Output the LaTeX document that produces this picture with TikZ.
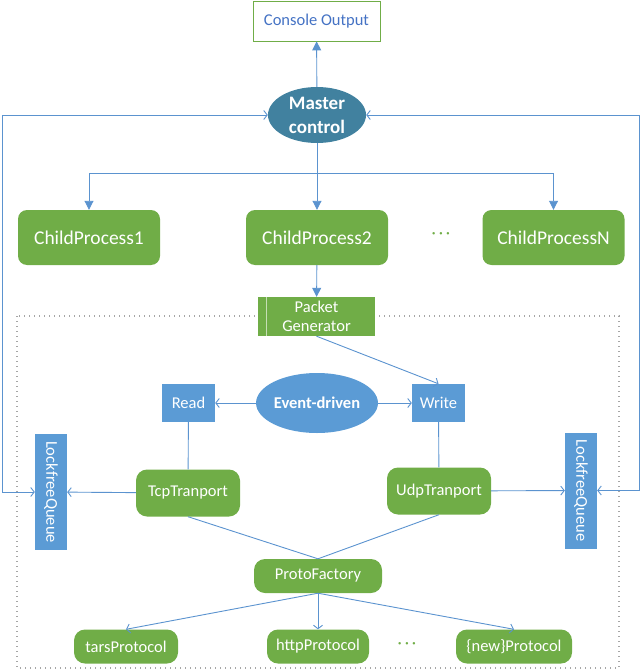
\documentclass[tikz,border=0pt]{standalone}
\usepackage{fontspec}
\setmainfont{Carlito}
\usetikzlibrary{arrows.meta, shapes.geometric, calc}

\definecolor{boxgreen}{HTML}{70AD47}
\definecolor{boxblue}{HTML}{5B9BD5}
\definecolor{masterteal}{HTML}{41819F}
\definecolor{linkblue}{HTML}{5B93CF}
\definecolor{textblue}{HTML}{4472C4}

\tikzset{
  greenbox/.style={rectangle, rounded corners=9pt, fill=boxgreen, text=white, align=center, inner sep=0pt, font=\fontsize{16.5}{19}\selectfont},
  childbox/.style={greenbox, minimum width=142pt, minimum height=55pt, font=\fontsize{19.5}{22}\selectfont},
  transbox/.style={greenbox, rounded corners=11pt, minimum width=104pt, minimum height=47pt},
  protobox/.style={greenbox, rounded corners=11pt, minimum height=34pt},
  bluebox/.style={rectangle, fill=boxblue, text=white, inner sep=0pt, minimum width=53pt, minimum height=38pt, font=\fontsize{16.5}{19}\selectfont},
  queuebox/.style={bluebox, rotate=-90, minimum width=116pt, minimum height=32pt},
  link/.style={draw=linkblue, line width=0.9pt},
  fillarrow/.style={link, -{Triangle[width=9pt,length=9pt]}},
  openarrow/.style={link, -{Straight Barb[length=3.5pt,width=9pt]}},
  bothopen/.style={link, {Straight Barb[length=3.5pt,width=9pt]}-{Straight Barb[length=3.5pt,width=9pt]}},
  moredots/.style={text=boxgreen, font=\fontsize{17}{18}\selectfont, inner sep=0pt},
}

\begin{document}
\begin{tikzpicture}[x=1pt,y=-1pt]
\useasboundingbox (0,0) rectangle (641,671);

% Worker area
\draw[gray!70, line width=1.1pt, dash pattern=on 1.1pt off 3.9pt] (17,316) rectangle (619,668);

% Master and output
\node[rectangle, draw=boxgreen, line width=0.8pt, text=textblue, minimum width=127pt, minimum height=40pt, inner sep=0pt, font=\fontsize{16.5}{19}\selectfont] (console) at (316.5,21) {Console Output};
\node[ellipse, fill=masterteal, text=white, minimum width=98pt, minimum height=56pt, inner sep=0pt, align=center, font=\bfseries\fontsize{19}{24}\selectfont] (master) at (317,115) {Master\\control};

% Child processes
\node[childbox] (child1) at (89,237.5) {ChildProcess1};
\node[childbox] (child2) at (317,237.5) {ChildProcess2};
\node[childbox] (childN) at (553.5,237.5) {ChildProcessN};
\node[moredots] (childdots) at (441,236) {·\,·\,·};

% Packet generator
\node[greenbox, rounded corners=0pt, minimum width=117pt, minimum height=39pt] (pktgen) at (316.5,316.5) {Packet\\Generator};
\draw[white!60!boxgreen, line width=1.2pt] ($(pktgen.north west)+(9,0)$) -- ($(pktgen.south west)+(9,0)$);

% Event loop
\node[ellipse, fill=boxblue, text=white, minimum width=118pt, minimum height=60pt, inner sep=0pt, font=\bfseries\fontsize{16.5}{19}\selectfont] (event) at (317,403) {Event-driven};
\node[bluebox] (read) at (188.5,403) {Read};
\node[bluebox] (write) at (438.5,403) {Write};

% Transports and queues
\node[transbox] (tcp) at (188,493) {TcpTranport};
\node[transbox] (udp) at (439,491) {UdpTranport};
\node[queuebox] (lqueue) at (51,492) {LockfreeQueue};
\node[queuebox] (rqueue) at (581,490.5) {LockfreeQueue};

% Protocols
\node[protobox, minimum width=128pt] (proto) at (318,576) {ProtoFactory};
\node[protobox, minimum width=104pt] (tars) at (126,646.5) {tarsProtocol};
\node[protobox, minimum width=102pt] (http) at (318,646.5) {httpProtocol};
\node[protobox, minimum width=116pt] (newproto) at (514,646.5) {\{new\}Protocol};
\node[moredots] (protodots) at (407,646) {·\,·\,·};

% Bus corners
\coordinate (split) at (317,173);
\coordinate (lbus) at (2,115);
\coordinate (rbus) at (639,115);

% Lines for master
\draw[fillarrow] (master) -- (console);
\draw[fillarrow] (master) -- (child2);
\draw[fillarrow] (split) -| (child1);
\draw[fillarrow] (split) -| (childN);
\draw[bothopen] (master) -- (lbus) |- (lqueue);
\draw[bothopen] (master) -- (rbus) |- (rqueue);

% Lines inside the worker
\draw[fillarrow] (child2) -- (pktgen);
\draw[openarrow] (pktgen.south) -- (write.north);
\draw[openarrow] (event) -- (read);
\draw[openarrow] (event) -- (write);
\draw[link] (read) -- (tcp);
\draw[link] (write) -- (udp);
\draw[openarrow] (tcp) -- (lqueue);
\draw[openarrow] (udp) -- (rqueue);
\draw[link] (tcp.south) -- (proto.north);
\draw[link] (udp.south) -- (proto.north);
\draw[openarrow] (proto.south) -- (tars.north);
\draw[openarrow] (proto.south) -- (http.north);
\draw[openarrow] (proto.south) -- (newproto.north);
\end{tikzpicture}
\end{document}
